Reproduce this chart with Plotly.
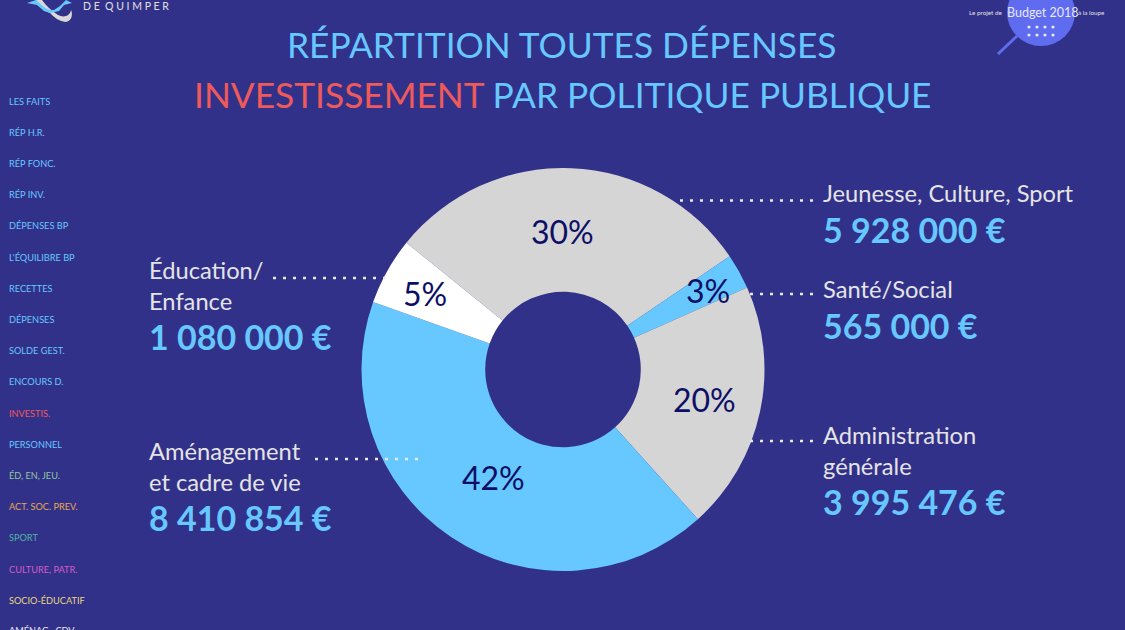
import plotly.graph_objects as go

categories = ["Jeunesse, Culture, Sport", "Santé/Social", "Administration générale",
              "Aménagement et cadre de vie", "Éducation/ Enfance"]
values = [5928000, 565000, 3995476, 8410854, 1080000]
slice_colors = ["#d5d5d5", "#66c8ff", "#d5d5d5", "#66c8ff", "#ffffff"]
amount_labels = ["5 928 000 €", "565 000 €", "3 995 476 €", "8 410 854 €", "1 080 000 €"]
name_labels = ["Jeunesse, Culture, Sport", "Santé/Social", "Administration<br>générale",
               "Aménagement<br>et cadre de vie", "Éducation/<br>Enfance"]
nav_labels = ["LES FAITS", "RÉP H.R.", "RÉP FONC.", "RÉP INV.", "DÉPENSES BP", "L'ÉQUILIBRE BP",
              "RECETTES", "DÉPENSES", "SOLDE GEST.", "ENCOURS D.", "INVESTIS.", "PERSONNEL",
              "ÉD, EN, JEU.", "ACT. SOC. PREV.", "SPORT", "CULTURE, PATR.", "SOCIO-ÉDUCATIF", "AMÉNAG., CDV"]
nav_colors = ["#66c8ff"] * 10 + ["#ee5a5a", "#66c8ff", "#8fc79a", "#e8a64f", "#4fb5a5", "#d45cc8", "#e8d87a", "#e8e8e8"]

BG = "#32318a"
W, H = 1125, 630
FONT = "Lato"
total = sum(values)

fig = go.Figure()
fig.add_trace(go.Pie(
    values=values, labels=categories, sort=False, direction="clockwise", rotation=309,
    hole=0.386, textinfo="none", hoverinfo="label+percent",
    marker=dict(colors=slice_colors, line=dict(width=0)), showlegend=False,
    domain=dict(x=[361 / W, 765 / W], y=[(H - 571) / H, (H - 168) / H]),
))

ann = []
def text(x, y, s, size, color, anchor="left", weight=None, family=FONT):
    label = f"<b>{s}</b>" if weight else s
    ann.append(dict(x=x, y=y, xref="x", yref="y", text=label, showarrow=False, xanchor=anchor, yanchor="middle",
                    align=anchor, font=dict(size=size, color=color, family=family)))

# title
text(562, 44, "RÉPARTITION TOUTES DÉPENSES", 35.3, "#66c8ff", "center")
ann.append(dict(x=562, y=94, xref="x", yref="y", showarrow=False, xanchor="center", yanchor="middle",
                text="<span style='color:#ee5a5a'>INVESTISSEMENT</span> PAR POLITIQUE PUBLIQUE",
                font=dict(size=35.3, color="#66c8ff", family=FONT)))

# percent labels on the slices
pct_pos = [(562, 231), (708, 290), (704, 399), (493, 477), (425, 293)]
for (x, y), v in zip(pct_pos, values):
    text(x, y, f"{round(v / total * 100)}%", 32, "#0d0f66", "center")

# category labels
label_pos = [(821, 193, 229), (821, 289, 325), (821, 450, 501), (147, 466, 517), (147, 285, 336)]
for (x, yn, ya), n, a in zip(label_pos, name_labels, amount_labels):
    text(x, yn, n, 23.7, "#e4e4e4")
    text(x, ya, a, 34, "#66c8ff", weight=True)

# nav
for i, (n, c) in enumerate(zip(nav_labels, nav_colors)):
    text(7, min(101 + i * 31.2, 630), n, 9.2, c)

# header
text(81, 6, "D E  Q U I M P E R", 10.5, "#e0e0e0")
text(967, 12, "Le projet de", 6.3, "#e0e0e0")
text(1005, 12, "Budget 2018", 12.5, "#e8e8f8")
text(1076, 12, "à la loupe", 6.3, "#e0e0e0")

shapes = []
dot = dict(color="#e8e8e8", width=2.6, dash="3px 7px")
leaders = [(680, 200.5, 815, 200.5), (750, 294, 815, 294), (750, 441, 815, 441), (315, 459, 425, 459), (273, 278, 385, 278)]
for x0, y0, x1, y1 in leaders:
    shapes.append(dict(type="line", xref="x", yref="y", x0=x0, y0=y0, x1=x1, y1=y1, line=dot, layer="above"))

# loupe
shapes.append(dict(type="line", xref="x", yref="y", x0=998, y0=54, x1=1017, y1=36,
                   line=dict(color="#5f6cf0", width=3), layer="below"))
shapes.append(dict(type="circle", xref="x", yref="y", x0=1007, y0=-21, x1=1075, y1=46,
                   fillcolor="#5f6cf0", line=dict(width=0), layer="below"))
for cy in (27, 35):
    for cx in (1029, 1037, 1045, 1053):
        shapes.append(dict(type="circle", xref="x", yref="y", x0=cx - 1.6, x1=cx + 1.6, y0=cy - 1.6, y1=cy + 1.6,
                           fillcolor="#e8e8e8", line=dict(width=0), layer="below"))
# logo
shapes.append(dict(type="path", xref="x", yref="y", layer="below", fillcolor="#d8d8d8", line=dict(width=0),
                   path="M36,0 C40,8 46,11 50,13 C54,17 58,21 66,22 C72,21 73,14 71,10 C70,16 64,18 58,15 C52,11 46,6 42,0 Z"))
shapes.append(dict(type="path", xref="x", yref="y", layer="below", fillcolor="#66c8ff", line=dict(width=0),
                   path="M27,3 L36,0 L45,8 L50,10 L54,10 L60,6 L66,0 L72,3 L64,5 L59,11 L50,13 L44,11 L37,5 Z"))

fig.update_layout(
    width=W, height=H, margin=dict(l=0, r=0, t=0, b=0, pad=0), paper_bgcolor=BG, plot_bgcolor=BG,
    xaxis=dict(range=[0, W], visible=False, fixedrange=True),
    yaxis=dict(range=[H, 0], visible=False, fixedrange=True),
    annotations=ann, shapes=shapes, showlegend=False,
)
fig.write_html("out.html", config={"displayModeBar": False},
               post_script="document.body.style.margin='0';document.body.style.background='#32318a';document.body.style.overflow='hidden';")
